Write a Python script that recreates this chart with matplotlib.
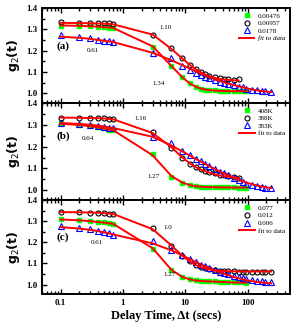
import numpy as np
import matplotlib
matplotlib.use("Agg")
import matplotlib.pyplot as plt
from matplotlib.ticker import LogLocator, MultipleLocator, FixedLocator, NullFormatter

# delay times (s): short-time group, then the long-time group
x_early = [0.1, 0.2, 0.3, 0.4, 0.5, 0.6, 0.7]
x_late = [3, 6, 9, 12, 15, 18, 21, 24, 30, 36, 42, 48, 60, 72, 84, 96, 120, 144, 168, 192, 240]
x_all = x_early + x_late

# panel (a)
a_labels = ["0.00476", "0.00957", "0.0178"]
a_sq = [1.315, 1.314, 1.313, 1.311, 1.309, 1.307, 1.305,
        1.215, 1.130, 1.078, 1.048, 1.030, 1.022, 1.018, 1.016, 1.014, 1.013, 1.012, 1.012, 1.011, 1.011, 1.010, 1.010]
a_sq_fit = [1.318, 1.316, 1.314, 1.312, 1.310, 1.308, 1.306,
            1.220, 1.128, 1.075, 1.045, 1.030, 1.022, 1.018, 1.015, 1.013, 1.012, 1.011, 1.011, 1.010, 1.010, 1.010, 1.010]
a_ci = [1.332, 1.331, 1.330, 1.329, 1.328, 1.327, 1.325,
        1.273, 1.211, 1.164, 1.132, 1.112, 1.100, 1.090, 1.083, 1.075, 1.070, 1.067, 1.065, 1.063, 1.065]
a_ci_fit = [1.330, 1.329, 1.328, 1.327, 1.326, 1.325, 1.323,
            1.275, 1.208, 1.163, 1.132, 1.112, 1.098, 1.088, 1.081, 1.072, 1.068, 1.065, 1.063, 1.061, 1.060]
a_tr = [1.272, 1.265, 1.258, 1.252, 1.247, 1.243, 1.240,
        1.187, 1.165, 1.128, 1.109, 1.095, 1.085, 1.078, 1.072, 1.062, 1.055, 1.050, 1.045, 1.038, 1.032,
        1.028, 1.022, 1.018, 1.015, 1.012, 1.010, 1.008]
a_tr_fit = [1.265, 1.260, 1.255, 1.250, 1.246, 1.243, 1.240,
            1.190, 1.155, 1.132, 1.115, 1.102, 1.092, 1.084, 1.077, 1.066, 1.058, 1.052, 1.047, 1.039, 1.033,
            1.028, 1.024, 1.018, 1.014, 1.011, 1.009, 1.006]

# panel (b)
b_labels = ["408K", "388K", "383K"]
b_sq = [1.306, 1.300, 1.294, 1.288, 1.283, 1.278, 1.274,
        1.164, 1.062, 1.035, 1.022, 1.018, 1.016, 1.015, 1.015, 1.014, 1.014, 1.013, 1.013, 1.013, 1.012, 1.012, 1.012]
b_sq_fit = [1.305, 1.299, 1.293, 1.288, 1.283, 1.279, 1.275,
            1.160, 1.065, 1.035, 1.023, 1.018, 1.016, 1.015, 1.014, 1.014, 1.013, 1.013, 1.013, 1.012, 1.012, 1.012, 1.012]
b_ci = [1.333, 1.332, 1.331, 1.330, 1.329, 1.328, 1.326,
        1.265, 1.195, 1.148, 1.118, 1.105, 1.097, 1.090, 1.085, 1.078, 1.072, 1.068, 1.065, 1.060, 1.057]
b_ci_fit = [1.333, 1.332, 1.331, 1.330, 1.329, 1.327, 1.325,
            1.262, 1.197, 1.150, 1.122, 1.105, 1.094, 1.087, 1.081, 1.073, 1.068, 1.064, 1.062, 1.058, 1.056]
b_tr = [1.306, 1.302, 1.298, 1.294, 1.290, 1.286, 1.283,
        1.245, 1.215, 1.180, 1.160, 1.145, 1.132, 1.120, 1.110, 1.095, 1.085, 1.078, 1.070, 1.058, 1.048,
        1.038, 1.030, 1.022, 1.018, 1.015, 1.012, 1.010]
b_tr_fit = [1.308, 1.304, 1.300, 1.296, 1.292, 1.288, 1.285,
            1.245, 1.205, 1.178, 1.158, 1.142, 1.130, 1.120, 1.111, 1.097, 1.086, 1.077, 1.069, 1.057, 1.048,
            1.041, 1.035, 1.027, 1.021, 1.017, 1.014, 1.010]

# panel (c)
c_labels = ["0.077", "0.012", "0.006"]
c_sq = [1.310, 1.306, 1.302, 1.298, 1.294, 1.290, 1.287,
        1.168, 1.071, 1.035, 1.025, 1.020, 1.018, 1.017, 1.016, 1.015, 1.014, 1.013, 1.012, 1.011, 1.010, 1.010, 1.009]
c_sq_fit = [1.308, 1.304, 1.300, 1.296, 1.293, 1.290, 1.287,
            1.172, 1.070, 1.036, 1.024, 1.019, 1.017, 1.016, 1.015, 1.014, 1.013, 1.012, 1.011, 1.010, 1.010, 1.009, 1.009]
c_ci = [1.345, 1.343, 1.341, 1.339, 1.337, 1.335, 1.333,
        1.267, 1.181, 1.134, 1.110, 1.095, 1.085, 1.078, 1.073, 1.068, 1.065, 1.064, 1.063, 1.063, 1.062,
        1.062, 1.062, 1.062, 1.062, 1.062, 1.062, 1.062]
c_ci_fit = [1.343, 1.342, 1.341, 1.340, 1.338, 1.336, 1.334,
            1.262, 1.185, 1.136, 1.108, 1.092, 1.082, 1.076, 1.072, 1.067, 1.065, 1.064, 1.063, 1.063, 1.062,
            1.062, 1.062, 1.062, 1.062, 1.062, 1.062, 1.062]
c_tr = [1.278, 1.270, 1.262, 1.255, 1.248, 1.242, 1.236,
        1.204, 1.165, 1.139, 1.120, 1.105, 1.095, 1.088, 1.080, 1.070, 1.062, 1.055, 1.050, 1.042, 1.035,
        1.030, 1.027, 1.022, 1.018, 1.015, 1.013, 1.010]
c_tr_fit = [1.272, 1.265, 1.259, 1.253, 1.247, 1.242, 1.237,
            1.195, 1.162, 1.138, 1.120, 1.106, 1.095, 1.086, 1.078, 1.067, 1.058, 1.051, 1.045, 1.036, 1.030,
            1.025, 1.021, 1.016, 1.012, 1.010, 1.008, 1.006]

# beta values written beside the curves: (text, x, y)
a_notes = [("1.10", 4.8, 1.31), ("0.61", 0.33, 1.20), ("1.34", 3.7, 1.048)]
b_notes = [("1.16", 1.9, 1.33), ("0.64", 0.27, 1.236), ("1.27", 3.05, 1.062)]
c_notes = [("1.0", 5.3, 1.27), ("0.61", 0.38, 1.198), ("1.27", 5.5, 1.048)]

panels = [
    ("(a)", a_labels, a_sq, a_sq_fit, a_ci, a_ci_fit, a_tr, a_tr_fit, a_notes, True),
    ("(b)", b_labels, b_sq, b_sq_fit, b_ci, b_ci_fit, b_tr, b_tr_fit, b_notes, False),
    ("(c)", c_labels, c_sq, c_sq_fit, c_ci, c_ci_fit, c_tr, c_tr_fit, c_notes, False),
]

serif = "Liberation Serif"
red = "#ff0000"

fig = plt.figure(figsize=(2.95, 3.29), dpi=100)
left, width = 0.142, 0.841
bottoms = [0.687, 0.392, 0.106]
tops = [0.976, 0.687, 0.392]

for i, (tag, labels, sq, sq_fit, ci, ci_fit, tr, tr_fit, notes, italic_fit) in enumerate(panels):
    ax = fig.add_axes([left, bottoms[i], width, tops[i] - bottoms[i]])
    ax.set_xscale("log")
    ax.set_xlim(0.05, 480)
    ax.set_ylim(0.955, 1.4)

    # fit lines first, markers on top
    ax.plot(x_all[:len(sq_fit)], sq_fit, color=red, lw=1.4, zorder=3)
    ax.plot(x_all[:len(ci_fit)], ci_fit, color=red, lw=1.4, zorder=3)
    ax.plot(x_all[:len(tr_fit)], tr_fit, color=red, lw=1.4, zorder=3)

    h1, = ax.plot(x_all[:len(sq)], sq, ls="none", marker="s", ms=3.2, mfc="#00ff00",
                  mec="#00ff00", zorder=2, label=labels[0])
    h2, = ax.plot(x_all[:len(ci)], ci, ls="none", marker="o", ms=3.6, mfc="none",
                  mec="black", mew=0.8, zorder=2, label=labels[1])
    h3, = ax.plot(x_all[:len(tr)], tr, ls="none", marker="^", ms=3.8, mfc="none",
                  mec="#0000ff", mew=0.8, zorder=2, label=labels[2])
    hf, = ax.plot([], [], color=red, lw=1.4, label="fit to data")

    leg = ax.legend(handles=[h1, h2, h3, hf], loc="upper right", frameon=False,
                    prop={"family": serif, "size": 5}, handlelength=2.2,
                    labelspacing=0.25, borderaxespad=0.3, handletextpad=0.5)
    if italic_fit:
        leg.get_texts()[3].set_style("italic")

    ax.text(0.085, 1.21 if i != 1 else 1.236, tag, fontfamily=serif, fontweight="bold", fontsize=8)
    for txt, xx, yy in notes:
        ax.text(xx, yy, txt, fontfamily=serif, fontsize=5, ha="center", va="center")

    ax.set_ylabel("g$_2$(t)", fontsize=9, fontweight="bold", labelpad=3)
    ax.yaxis.set_major_locator(FixedLocator([1.0, 1.1, 1.2, 1.3, 1.4]))
    ax.yaxis.set_minor_locator(MultipleLocator(0.05))
    ax.xaxis.set_major_locator(LogLocator(base=10, numticks=10))
    ax.xaxis.set_minor_locator(LogLocator(base=10, subs=np.arange(2, 10), numticks=10))
    ax.tick_params(which="both", direction="in", top=True, right=False, width=1)
    ax.tick_params(which="major", length=3.5)
    ax.tick_params(which="minor", length=2)
    for lab in ax.get_yticklabels():
        lab.set_fontfamily(serif)
        lab.set_fontweight("bold")
        lab.set_fontsize(6.5)
    for sp in ax.spines.values():
        sp.set_linewidth(1.4)

    if i < 2:
        ax.xaxis.set_major_formatter(NullFormatter())
    else:
        ax.set_xticks([0.1, 1, 10, 100])
        ax.set_xticklabels(["0.1", "1", "10", "100"])
        ax.xaxis.set_minor_formatter(NullFormatter())
        for lab in ax.get_xticklabels():
            lab.set_fontfamily(serif)
            lab.set_fontweight("bold")
            lab.set_fontsize(6.5)
        ax.set_xlabel("Delay Time, \u0394t (secs)", fontfamily=serif, fontweight="bold",
                      fontsize=9, labelpad=2)

fig.savefig("out.png", dpi=100)
